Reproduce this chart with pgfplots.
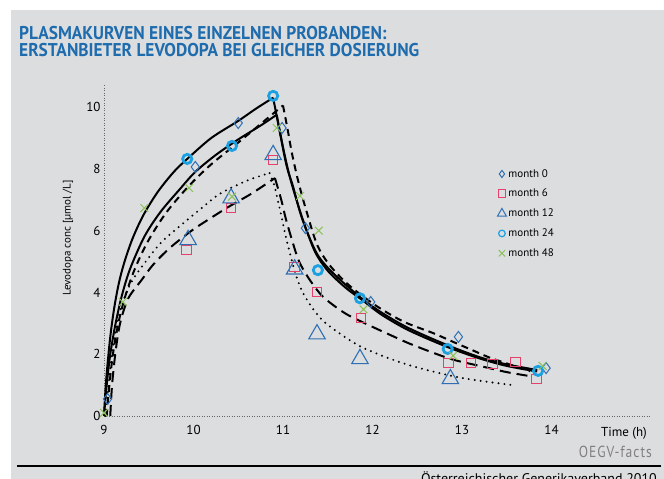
\documentclass[border=0pt]{standalone}
\usepackage{fontspec}
\setmainfont{PT Sans}
\newfontfamily\titlefont{PT Sans}[FakeStretch=0.94]
\newfontfamily\factsfont{PT Sans}[FakeStretch=0.85,LetterSpace=6]
\usepackage{pgfplots}
\pgfplotsset{compat=1.18}
\definecolor{bg}{HTML}{DCDDDF}
\definecolor{titleblue}{HTML}{1E6CAE}
\definecolor{mblue}{HTML}{2F6FB3}
\definecolor{mpink}{HTML}{E5416A}
\definecolor{mcyan}{HTML}{1BA1E2}
\definecolor{mgreen}{HTML}{8DC15A}
\begin{document}
\begin{tikzpicture}[x=1pt,y=1pt]
\fill[white] (0,0) rectangle (664,479);
\fill[bg] (10.5,0) rectangle (664,468.5);
\node[anchor=base west, inner sep=0, text=titleblue, font=\titlefont\bfseries\fontsize{18.5}{20}\selectfont] at (19,439) {PLASMAKURVEN EINES EINZELNEN PROBANDEN:};
\node[anchor=base west, inner sep=0, text=titleblue, font=\titlefont\bfseries\fontsize{18.5}{20}\selectfont] at (19,422) {ERSTANBIETER LEVODOPA BEI GLEICHER DOSIERUNG};
\node[rotate=90, inner sep=0, font=\fontsize{11}{11}\selectfont] at (68,241) {Levodopa conc [µmol /L]};
\node[anchor=base east, inner sep=0, font=\fontsize{13}{13}\selectfont] at (647,42) {Time (h)};
\node[anchor=base east, inner sep=0, text=black!50, font=\factsfont\fontsize{16}{16}\selectfont] at (652,21) {OEGV-facts};
\draw[line width=2.5pt] (17,13) -- (661,13);
\node[anchor=base east, inner sep=0, font=\fontsize{14}{14}\selectfont] at (657,-5) {Österreichischer Generikaverband 2010};
\begin{axis}[
  at={(104pt,63pt)}, anchor=south west,
  x=89.5pt, y=30.9pt,
  xmin=9, xmax=15.1, ymin=0, ymax=10.7,
  axis lines=left,
  axis line style={-, line width=0.9pt, black!60, dash pattern=on 0.8pt off 1.7pt},
  xtick={9,10,11,12,13,14}, ytick={0,2,4,6,8,10},
  major tick length=0pt,
  tick label style={font=\fontsize{13}{13}\selectfont},
  xticklabel style={yshift=-6pt},
  /pgf/number format/assume math mode=true,
  clip=false,
  legend style={at={(axis cs:13.36,8.12)}, anchor=north west, draw=none, fill=none,
    font=\fontsize{11}{11}\selectfont, row sep=6.5pt},
  legend cell align=left,
  legend image code/.code={\draw[#1] plot coordinates {(0.15cm,0cm)};},
]
\addlegendimage{only marks, mark=diamond, mark size=3.6pt, mark options={draw=mblue, fill=none, line width=1pt}}
\addlegendentry{month 0}
\addlegendimage{only marks, mark=square, mark size=3.8pt, mark options={draw=mpink, fill=none, line width=1pt}}
\addlegendentry{month 6}
\addlegendimage{only marks, mark=triangle, mark size=5.2pt, mark options={draw=mblue, fill=none, line width=1pt}}
\addlegendentry{month 12}
\addlegendimage{only marks, mark=o, mark size=3.3pt, mark options={draw=mcyan, fill=none, line width=1.2pt}}
\addlegendentry{month 24}
\addlegendimage{only marks, mark=x, mark size=4.5pt, mark options={draw=mgreen, line width=1pt}}
\addlegendentry{month 48}
% --- upper solid
\addplot[smooth, black, line width=2pt, forget plot] coordinates {(9.00,0) (9.02,1.0) (9.05,2.0) (9.08,2.8) (9.12,3.6) (9.17,4.35) (9.23,5.0) (9.32,5.75) (9.44,6.5) (9.6,7.25) (9.78,7.9) (9.93,8.32) (10.2,9.0) (10.5,9.55) (10.7,9.95) (10.89,10.3)};
\addplot[smooth, black, line width=2pt, forget plot] coordinates {(10.89,10.3) (10.97,9.1) (11.04,8.1) (11.11,7.45) (11.19,6.6) (11.27,5.95) (11.39,5.2) (11.56,4.62) (11.86,3.85) (12.1,3.35) (12.4,2.85) (12.83,2.3) (13.2,1.9) (13.5,1.67) (13.84,1.49)};
% --- lower solid
\addplot[smooth, black, line width=2pt, forget plot] coordinates {(9.00,0) (9.03,1.0) (9.07,2.0) (9.13,3.0) (9.2,3.9) (9.29,4.75) (9.45,5.8) (9.63,6.6) (9.85,7.35) (10.02,7.9) (10.25,8.45) (10.5,8.95) (10.75,9.4) (10.93,9.75)};
\addplot[smooth, black, line width=2pt, forget plot] coordinates {(10.93,9.75) (11.0,8.7) (11.07,7.8) (11.15,7.0) (11.24,6.2) (11.36,5.3) (11.5,4.7) (11.7,4.15) (11.9,3.72) (12.1,3.28) (12.4,2.78) (12.83,2.24) (13.2,1.86) (13.5,1.62) (13.84,1.44)};
% --- dashed
\addplot[smooth, black, line width=2pt, dash pattern=on 7pt off 5pt, forget plot] coordinates {(9.03,0) (9.06,1.0) (9.1,2.0) (9.16,3.0) (9.24,3.9) (9.35,4.8) (9.5,5.7) (9.7,6.6) (9.95,7.45) (10.2,8.15) (10.5,8.85) (10.75,9.45) (11.0,10.05)};
\addplot[smooth, black, line width=2pt, dash pattern=on 7pt off 5pt, forget plot] coordinates {(11.0,10.05) (11.05,9.3) (11.1,8.5) (11.17,7.6) (11.25,6.75) (11.38,5.55) (11.53,4.85) (11.75,4.2) (12.05,3.55) (12.35,3.05) (12.68,2.68) (12.9,2.4) (13.1,2.15) (13.3,1.9) (13.5,1.7) (13.76,1.45)};
% --- long dashed
\addplot[smooth, black, line width=2pt, dash pattern=on 11pt off 6pt, forget plot] coordinates {(9.07,0) (9.09,1.0) (9.13,2.1) (9.18,3.0) (9.27,3.8) (9.42,4.4) (9.55,4.9) (9.74,5.45) (9.98,6.0) (10.2,6.42) (10.41,6.8) (10.65,7.2) (10.91,7.7)};
\addplot[smooth, black, line width=2pt, dash pattern=on 11pt off 6pt, forget plot] coordinates {(10.91,7.7) (10.98,7.0) (11.03,6.4) (11.1,5.7) (11.18,5.0) (11.3,4.4) (11.45,3.85) (11.69,3.33) (11.93,2.98) (12.2,2.62) (12.45,2.3) (12.87,1.85) (13.23,1.6) (13.5,1.42) (13.76,1.29)};
% --- dotted
\addplot[smooth, black, line width=2.2pt, line cap=round, dash pattern=on 0pt off 6pt, forget plot] coordinates {(9.02,0) (9.05,1.0) (9.1,2.2) (9.18,3.4) (9.3,4.3) (9.48,5.05) (9.65,5.65) (9.87,6.2) (10.1,6.75) (10.3,7.2) (10.6,7.62) (10.85,7.86)};
\addplot[smooth, black, line width=2.2pt, line cap=round, dash pattern=on 0pt off 6pt, forget plot] coordinates {(10.85,7.86) (10.9,7.5) (10.94,7.0) (10.98,6.5) (11.02,5.95) (11.07,5.35) (11.14,4.6) (11.22,4.0) (11.34,3.45) (11.47,3.02) (11.71,2.52) (11.9,2.2) (12.2,1.85) (12.5,1.57) (13.0,1.23) (13.57,1.0)};
% --- markers
\addplot[only marks, mark=diamond, mark size=5.5pt, mark options={draw=mblue, fill=none, line width=1pt}, forget plot] coordinates {(9.04,0.55) (10.02,8.06) (10.5,9.48) (10.99,9.32) (11.25,6.08) (11.98,3.69) (12.96,2.56) (13.94,1.55)};
\addplot[only marks, mark=square, mark size=4.8pt, mark options={draw=mpink, fill=none, line width=1pt}, forget plot] coordinates {(9.92,5.37) (10.42,6.73) (10.89,8.28) (11.13,4.82) (11.38,4.01) (11.87,3.17) (12.85,1.72) (13.1,1.72) (13.34,1.68) (13.6,1.75) (13.83,1.2)};
\addplot[only marks, mark=triangle, mark size=9.5pt, mark options={draw=mblue, fill=none, line width=1.1pt}, forget plot] coordinates {(9.94,5.7) (10.42,7.05) (10.89,8.45) (11.13,4.75) (11.38,2.65) (11.86,1.85) (12.87,1.2)};
\addplot[only marks, mark=o, mark size=4.6pt, mark options={draw=mcyan, fill=none, line width=2.8pt}, forget plot] coordinates {(9.93,8.32) (10.43,8.74) (10.89,10.36) (11.39,4.72) (11.86,3.81) (12.84,2.17) (13.85,1.46)};
\addplot[only marks, mark=x, mark size=5.5pt, mark options={draw=mgreen, line width=1pt}, forget plot] coordinates {(9.0,0.1) (9.21,3.69) (9.45,6.73) (9.95,7.38) (10.43,7.1) (10.93,9.32) (11.19,7.12) (11.4,6.0) (11.9,3.45) (12.9,1.95) (13.9,1.62)};
\end{axis}
\pgfresetboundingbox
\useasboundingbox (0,0) rectangle (664,479);
\end{tikzpicture}
\end{document}
